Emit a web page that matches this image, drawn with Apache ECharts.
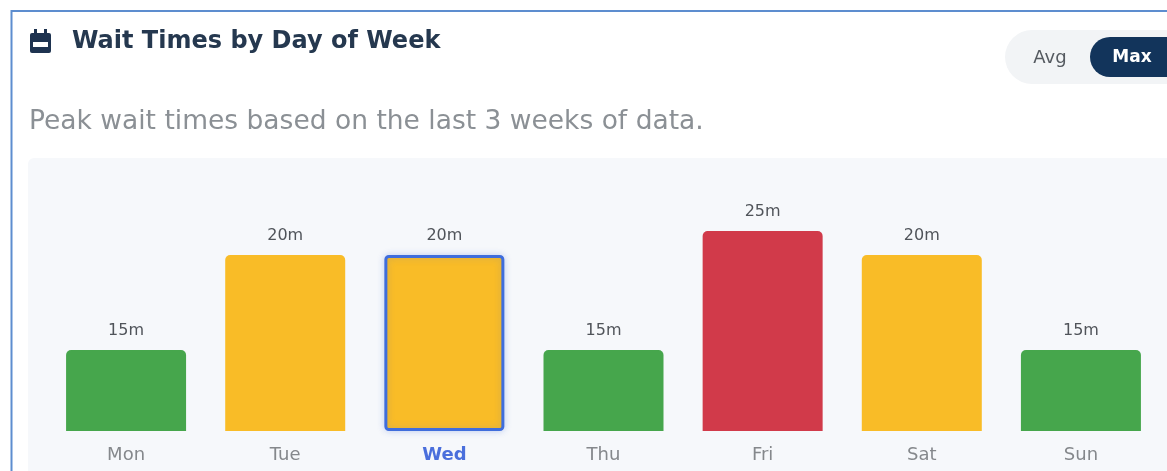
<!DOCTYPE html>
<html>
<head>
<meta charset="utf-8">
<style>
  html, body { margin: 0; padding: 0; background: #fff; }
  #chart { width: 1167px; height: 471px; }
</style>
<script src="https://cdn.jsdelivr.net/npm/echarts@6/dist/echarts.min.js"></script>
</head>
<body>
<div id="chart"></div>
<script>
const days = ['Mon', 'Tue', 'Wed', 'Thu', 'Fri', 'Sat', 'Sun'];
const waitLabels = ['15m', '20m', '20m', '15m', '25m', '20m', '15m'];
// bar height as drawn, Fri = 100 (the picture does not scale linearly with minutes)
const barLevels = [40.5, 88, 88, 40.5, 100, 88, 40.5];
const barColors = ['#46a64c', '#f9bc27', '#f9bc27', '#46a64c', '#d13a4a', '#f9bc27', '#46a64c'];
const selectedDay = 'Wed';
const fontName = '"DejaVu Sans", sans-serif';

const chart = echarts.init(document.getElementById('chart'));

chart.setOption({
  animation: false,
  backgroundColor: '#ffffff',
  title: [
    {
      text: 'Wait Times by Day of Week',
      left: 67, top: 25,
      textStyle: { color: '#25384f', fontSize: 24, fontWeight: 'bold', fontFamily: fontName }
    },
    {
      text: 'Peak wait times based on the last 3 weeks of data.',
      left: 24, top: 104,
      textStyle: { color: '#8b9095', fontSize: 26.5, fontWeight: 'normal', fontFamily: fontName }
    }
  ],
  grid: { left: 46.5, right: 6.5, top: 231, bottom: 40 },
  xAxis: {
    type: 'category',
    data: days,
    axisLine: { show: false },
    axisTick: { show: false },
    axisLabel: {
      margin: 15,
      color: '#85888c',
      fontSize: 18,
      fontFamily: fontName,
      formatter: d => d === selectedDay ? `{sel|${d}}` : d,
      rich: { sel: { color: '#4a6fdc', fontSize: 18, fontWeight: 'bold', fontFamily: fontName } }
    }
  },
  yAxis: { type: 'value', min: 0, max: 100, show: false },
  series: [{
    type: 'bar',
    barWidth: 120,
    data: barLevels.map((v, i) => ({
      value: v,
      itemStyle: days[i] === selectedDay
        ? { color: barColors[i], borderColor: '#3f6ddc', borderWidth: 3, borderRadius: 3,
            shadowColor: 'rgba(63,109,220,0.25)', shadowBlur: 7 }
        : { color: barColors[i], borderRadius: [5, 5, 0, 0] }
    })),
    label: {
      show: true,
      position: 'top',
      distance: 11,
      color: '#50545a',
      fontSize: 16,
      fontFamily: fontName,
      formatter: p => waitLabels[p.dataIndex]
    }
  }],
  graphic: [
    // card outline, runs off the right and bottom edges
    { type: 'rect', z: -2, shape: { x: 11.5, y: 11, width: 1300, height: 600 },
      style: { fill: '#ffffff', stroke: '#5d8dcf', lineWidth: 2 } },
    // chart panel
    { type: 'rect', z: -1, shape: { x: 28, y: 158, width: 1300, height: 400, r: 6 },
      style: { fill: '#f6f8fb' } },
    // calendar icon
    { type: 'rect', shape: { x: 30, y: 33, width: 21, height: 20, r: 2 }, style: { fill: '#1e3350' } },
    { type: 'rect', shape: { x: 34, y: 29, width: 3, height: 5 }, style: { fill: '#1e3350' } },
    { type: 'rect', shape: { x: 44, y: 29, width: 3, height: 5 }, style: { fill: '#1e3350' } },
    { type: 'rect', shape: { x: 33, y: 42, width: 15, height: 5 }, style: { fill: '#ffffff' } },
    // Avg / Max toggle
    { type: 'rect', shape: { x: 1005, y: 30, width: 220, height: 54, r: 27 }, style: { fill: '#f2f4f6' } },
    { type: 'rect', shape: { x: 1090, y: 37, width: 110, height: 40, r: 20 }, style: { fill: '#12345b' } },
    { type: 'text', style: { x: 1050, y: 58, text: 'Avg', fill: '#555a60', font: '18px ' + fontName,
      textAlign: 'center', textVerticalAlign: 'middle' } },
    { type: 'text', style: { x: 1132, y: 58, text: 'Max', fill: '#ffffff', font: 'bold 17px ' + fontName,
      textAlign: 'center', textVerticalAlign: 'middle' } }
  ]
});
</script>
</body>
</html>
